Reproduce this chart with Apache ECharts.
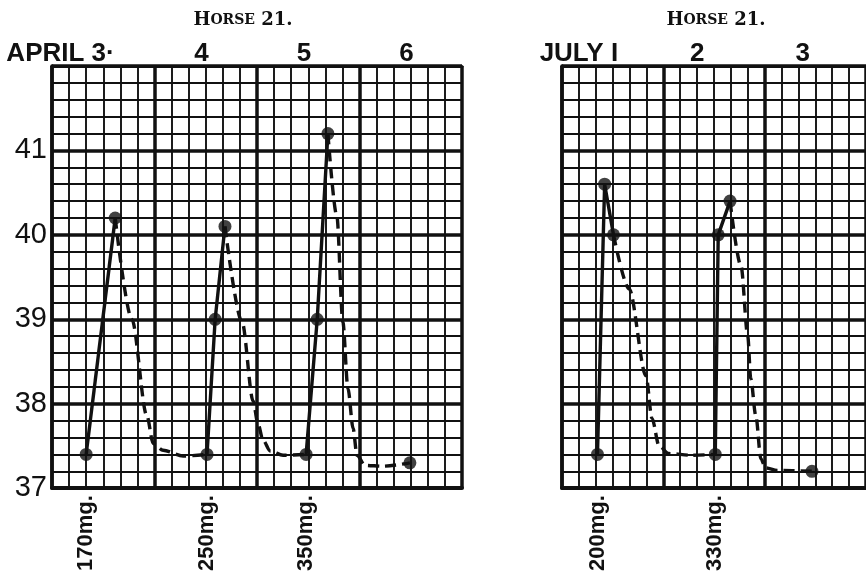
<!DOCTYPE html>
<html><head><meta charset="utf-8">
<script src="https://cdn.jsdelivr.net/npm/echarts@6/dist/echarts.min.js"></script>
<style>html,body{margin:0;padding:0;background:#fff}#c{width:866px;height:574px}</style>
</head><body><div id="c"></div><script>
// ---- data ----
const aprilDays = ['APRIL 3·', '4', '5', '6'];
const aprilDayHours = [2, 35, 59, 83];
const julyDays = ['JULY I', '2', '3'];
const julyDayHours = [4, 32, 57];
const tempTicks = [37, 38, 39, 40, 41];
const aprilDoseHours = [8, 36.3, 59.5];
const aprilDoses = ['170mg.', '250mg.', '350mg.'];
const julyDoseHours = [8.4, 36.3];
const julyDoses = ['200mg.', '330mg.'];

const aprilReadings = [[8,37.4],[14.8,40.2],[36.3,37.4],[38.2,39.0],[40.5,40.1],[59.5,37.4],[62.1,39.0],[64.6,41.2],[83.8,37.3]];
const aprilRise1 = [[8,37.4],[14.8,40.2]];
const aprilFall1 = [[14.8,40.2],[18.7,39.0],[22.2,37.86],[23.7,37.53],[26.0,37.45],[30.7,37.38],[36.3,37.4]];
const aprilRise2 = [[36.3,37.4],[38.2,39.0],[40.5,40.1]];
const aprilFall2 = [[40.5,40.1],[44.5,38.97],[47.1,38.03],[48.2,37.77],[49.4,37.57],[51.1,37.44],[54.1,37.39],[59.5,37.4]];
const aprilRise3 = [[59.5,37.4],[62.1,39.0],[64.6,41.2]];
const aprilFall3 = [[64.6,41.2],[66.7,40.22],[68.1,38.97],[69.3,38.18],[70.5,37.71],[71.4,37.39],[73.3,37.27],[77.5,37.26],[83.8,37.3]];

const julyReadings = [[8.4,37.4],[10.1,40.6],[12.2,40.0],[36.3,37.4],[37.0,40.0],[39.8,40.4],[59.2,37.2]];
const julyRise1 = [[8.4,37.4],[10.1,40.6],[12.2,40.0]];
const julyFall1 = [[12.2,40.0],[15.9,39.36],[19.9,38.33],[21.3,37.83],[23.0,37.5],[25.3,37.41],[30.7,37.39],[36.3,37.4]];
const julyRise2 = [[36.3,37.4],[37.0,40.0],[39.8,40.4]];
const julyFall2 = [[39.8,40.4],[42.4,39.63],[44.0,38.8],[44.7,38.3],[45.9,37.86],[47.1,37.35],[48.2,37.24],[51.0,37.21],[59.2,37.2]];

// ---- chart ----
const chart = echarts.init(document.getElementById('c'), null, {renderer: 'canvas'});
const BLACK = '#111';
const thick = 3.5, thin = 1.9;

function bottomX(gridIndex, max, doseHours, doses) {
  return {
    type: 'value', gridIndex, position: 'bottom', min: 0, max, interval: 24,
    axisLine: {show: true, lineStyle: {color: BLACK, width: 4}},
    axisTick: {show: false},
    splitLine: {show: true, lineStyle: {color: BLACK, width: thick}},
    minorTick: {show: false, splitNumber: 6},
    minorSplitLine: {show: true, lineStyle: {color: BLACK, width: thin}},
    axisLabel: {
      customValues: doseHours, rotate: 90, margin: 7,
      formatter: v => doses[doseHours.indexOf(v)] || '',
      color: BLACK, fontFamily: 'Liberation Sans', fontWeight: 'bold', fontSize: 22
    }
  };
}
function topX(gridIndex, max, dayHours, days) {
  return {
    type: 'value', gridIndex, position: 'top', min: 0, max, interval: 24,
    axisLine: {show: true, lineStyle: {color: BLACK, width: 3}},
    axisTick: {show: false},
    splitLine: {show: false},
    axisLabel: {
      customValues: dayHours, margin: -1,
      formatter: v => days[dayHours.indexOf(v)] || '',
      color: BLACK, fontFamily: 'Liberation Sans', fontWeight: 'bold', fontSize: 26
    }
  };
}
function yAx(gridIndex, showLabels) {
  return {
    type: 'value', gridIndex, min: 37, max: 42, interval: 1,
    axisLine: {show: true, lineStyle: {color: BLACK, width: 3.5}},
    axisTick: {show: false},
    splitLine: {show: true, lineStyle: {color: BLACK, width: thick}},
    minorTick: {show: false, splitNumber: 5},
    minorSplitLine: {show: true, lineStyle: {color: BLACK, width: thin}},
    axisLabel: {
      show: showLabels, customValues: tempTicks, margin: 5,
      color: BLACK, fontFamily: 'Liberation Sans', fontSize: 29
    }
  };
}
function solid(data, xi, yi) {
  return {type: 'line', xAxisIndex: xi, yAxisIndex: yi, data, showSymbol: false, symbol: 'none',
    lineStyle: {color: BLACK, width: 3.4}, z: 3, animation: false};
}
function dashed(data, xi, yi) {
  return {type: 'line', xAxisIndex: xi, yAxisIndex: yi, data, showSymbol: false, symbol: 'none',
    smooth: 0.3, smoothMonotone: 'x',
    lineStyle: {color: BLACK, width: 3.4, type: [11, 6]}, z: 3, animation: false};
}
function dots(data, xi, yi) {
  return {type: 'scatter', xAxisIndex: xi, yAxisIndex: yi, data, symbol: 'circle', symbolSize: 13,
    itemStyle: {color: BLACK}, z: 4, animation: false};
}
const titleRich = {
  b: {fontFamily: 'DejaVu Serif', fontWeight: 'bold', fontSize: 18, color: BLACK},
  s: {fontFamily: 'DejaVu Serif', fontWeight: 'bold', fontSize: 14, color: BLACK}
};
const option = {
  backgroundColor: '#fff',
  animation: false,
  title: [
    {text: '{b|H}{s|ORSE}{b| 21.}', left: 238, top: 6, textAlign: 'center', textStyle: {rich: titleRich}},
    {text: '{b|H}{s|ORSE}{b| 21.}', left: 711, top: 6, textAlign: 'center', textStyle: {rich: titleRich}}
  ],
  grid: [
    {left: 52, top: 66, width: 410, height: 424},
    {left: 562, top: 66, width: 307.5, height: 424}
  ],
  xAxis: [
    bottomX(0, 96, aprilDoseHours, aprilDoses),
    topX(0, 96, aprilDayHours, aprilDays),
    bottomX(1, 72, julyDoseHours, julyDoses),
    topX(1, 72, julyDayHours, julyDays)
  ],
  yAxis: [yAx(0, true), yAx(1, false)],
  series: [
    solid(aprilRise1, 0, 0), dashed(aprilFall1, 0, 0),
    solid(aprilRise2, 0, 0), dashed(aprilFall2, 0, 0),
    solid(aprilRise3, 0, 0), dashed(aprilFall3, 0, 0),
    dots(aprilReadings, 0, 0),
    solid(julyRise1, 2, 1), dashed(julyFall1, 2, 1),
    solid(julyRise2, 2, 1), dashed(julyFall2, 2, 1),
    dots(julyReadings, 2, 1)
  ]
};
chart.setOption(option);
</script></body></html>
